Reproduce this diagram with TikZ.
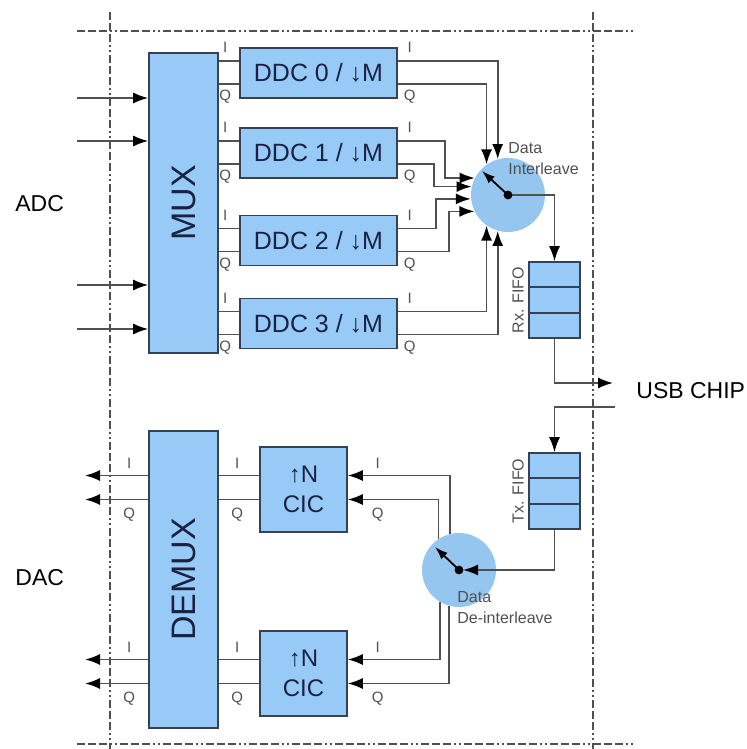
\documentclass[tikz,border=0pt]{standalone}
\usepackage{fontspec}
\setmainfont{Liberation Sans}
\usetikzlibrary{arrows.meta, positioning, calc}
\definecolor{birukotak}{RGB}{152,202,248}
\definecolor{biruputar}{RGB}{148,198,240}
\definecolor{tepibiru}{RGB}{55,65,85}
\definecolor{teksbiru}{RGB}{25,35,65}
\definecolor{garisabu}{RGB}{80,80,80}

\begin{document}
\begin{tikzpicture}[x=0.5pt, y=-0.5pt, font=\footnotesize,
        blok/.style={rectangle, draw=tepibiru, fill=birukotak, line width=0.8pt,
                     text=teksbiru, inner sep=0pt},
        ddc/.style={blok, minimum width=78.5pt, minimum height=25pt,
                    font=\fontsize{12.5}{15}\selectfont},
        cic/.style={blok, minimum width=43.5pt, minimum height=42.5pt, align=center,
                    font=\fontsize{12}{15}\selectfont},
        mux/.style={blok, minimum width=34.5pt},
        muxteks/.style={rotate=90, text=teksbiru, font=\fontsize{17}{20}\selectfont},
        fifo/.style={blok, minimum width=25.5pt, minimum height=38pt},
        putar/.style={circle, fill=biruputar, minimum size=37pt, inner sep=0pt},
        kabel/.style={draw=garisabu, line width=0.85pt},
        panah/.style={kabel, -{Latex[length=7.5pt, width=5.5pt, color=black]}},
        jarum/.style={draw=black, line width=0.9pt, -{Latex[length=6.5pt, width=4.5pt]}},
        iq/.style={font=\fontsize{7.5}{8}\selectfont, text=garisabu, inner sep=1pt},
        ket/.style={font=\fontsize{8}{10.5}\selectfont, text=garisabu, align=left, inner sep=0pt},
        sisi/.style={font=\fontsize{11.5}{14}\selectfont, inner sep=0pt},
        bingkai/.style={draw=garisabu, line width=0.6pt,
                        dash pattern=on 4pt off 1.5pt on 4pt off 1.5pt on 4pt off 1.5pt on 1pt off 1.5pt on 1pt off 1.5pt}
    ]
        \useasboundingbox (0,0) rectangle (746,749);

        % bingkai papan
        \draw[bingkai] (77,31) -- (635,31);
        \draw[bingkai] (77,744) -- (635,744);
        \draw[bingkai] (110,12) -- (110,749);
        \draw[bingkai] (593,12) -- (593,749);

        % blok-blok
        \node[mux, minimum height=150pt] (mux) at (183.5,203) {};
        \node[muxteks] (muxlbl) at (mux) {MUX};
        \node[ddc] (ddc0) at (318.5,73)    {DDC 0 / ↓M};
        \node[ddc] (ddc1) at (318.5,153)   {DDC 1 / ↓M};
        \node[ddc] (ddc2) at (318.5,240.5) {DDC 2 / ↓M};
        \node[ddc] (ddc3) at (318.5,323.5) {DDC 3 / ↓M};
        \node[putar] (ilv) at (508,195) {};
        \node[fifo] (rx) at (554.5,300) {};
        \node[fifo] (tx) at (554.5,491) {};
        \node[putar] (dil) at (459,570) {};
        \node[mux, minimum height=148.5pt] (demux) at (183.5,579.5) {};
        \node[muxteks] (demuxlbl) at (demux) {DEMUX};
        \node[cic] (cicA) at (303.5,489.5) {↑N\\CIC};
        \node[cic] (cicB) at (303.5,673.5) {↑N\\CIC};

        \foreach \f in {rx,tx} {
            \draw[draw=tepibiru, line width=0.8pt] ($(\f.north west)!1/3!(\f.south west)$) -- ($(\f.north east)!1/3!(\f.south east)$);
            \draw[draw=tepibiru, line width=0.8pt] ($(\f.north west)!2/3!(\f.south west)$) -- ($(\f.north east)!2/3!(\f.south east)$);
        }
        \node[ket, rotate=90, anchor=south] (rxlbl) at ([xshift=-2pt]rx.west) {Rx. FIFO};
        \node[ket, rotate=90, anchor=south] (txlbl) at ([xshift=-2pt]tx.west) {Tx. FIFO};

        % teks samping
        \node[sisi, anchor=west] (adc) at (15,204) {ADC};
        \node[sisi, anchor=west] (dac) at (15,578) {DAC};
        \node[sisi, anchor=west] (usb) at (636,391) {USB CHIP};
        \node[ket, anchor=west] (ilvlbl) at ($(ilv.center)+(0,-36.5)$) {Data\\Interleave};
        \node[ket, anchor=west] (dillbl) at ($(dil.center)+(-2,38)$) {Data\\De-interleave};

        % masukan ADC
        \coordinate (adc0) at (77,98);
        \coordinate (adc1) at (77,141);
        \coordinate (adc2) at (77,285);
        \coordinate (adc3) at (77,329);
        \foreach \a in {adc0,adc1,adc2,adc3}
            \draw[panah] (\a) -- (\a -| mux.west);

        % MUX ke DDC
        \foreach \d in {ddc0,ddc1,ddc2,ddc3} {
            \draw[kabel] ($(\d.west -| mux.east)+(0,-12)$) -- ($(\d.west)+(0,-12)$);
            \draw[kabel] ($(\d.west -| mux.east)+(0,11)$) -- ($(\d.west)+(0,11)$);
            \node[iq, above=3pt] (\d-li) at ($(\d.west)+(-14,-12)$) {I};
            \node[iq, below=2pt] (\d-lq) at ($(\d.west)+(-14,11)$) {Q};
            \node[iq, above=3pt] (\d-ri) at ($(\d.east)+(12,-12)$) {I};
            \node[iq, below=2pt] (\d-rq) at ($(\d.east)+(12,11)$) {Q};
        }

        % DDC ke interleave
        \draw[panah] ($(ddc0.east)+(0,-12)$) -| (ilv.106);
        \draw[panah] ($(ddc0.east)+(0,11)$) -| (ilv.125);
        \draw[panah] ($(ddc1.east)+(0,-12)$) -- ++(47,0) |- (ilv.153);
        \draw[panah] ($(ddc1.east)+(0,11)$) -- ++(36,0) |- (ilv.167);
        \draw[panah] ($(ddc2.east)+(0,-12)$) -- ++(38,0) |- (ilv.186);
        \draw[panah] ($(ddc2.east)+(0,11)$) -- ++(51,0) |- (ilv.206);
        \draw[panah] ($(ddc3.east)+(0,-12)$) -| (ilv.235);
        \draw[panah] ($(ddc3.east)+(0,11)$) -| (ilv.254);

        % FIFO dan USB
        \coordinate (usbmasuk) at (613,383);
        \coordinate (usbkeluar) at (615,407);
        \draw[panah] (ilv.center) -| (rx.north);
        \draw[panah] (rx.south) |- (usbmasuk);
        \draw[panah] (usbkeluar) -| (tx.north);
        \draw[panah, shorten >=2pt] (tx.south) |- (dil.center);

        % de-interleave ke CIC
        \draw[panah] (dil.104) |- ($(cicA.east)+(0,-14)$);
        \draw[panah] (dil.123) |- ($(cicA.east)+(0,10)$);
        \draw[panah] (dil.239) |- ($(cicB.east)+(0,-14)$);
        \draw[panah] (dil.254) |- ($(cicB.east)+(0,10)$);

        % CIC ke DEMUX ke DAC
        \coordinate (dacx) at (85,0);
        \foreach \c in {cicA,cicB} {
            \draw[kabel] ($(\c.west)+(0,-14)$) -- ($(\c.west -| demux.east)+(0,-14)$);
            \draw[kabel] ($(\c.west)+(0,10)$) -- ($(\c.west -| demux.east)+(0,10)$);
            \draw[panah] ($(\c.west -| demux.west)+(0,-14)$) -- ($(\c.west -| dacx)+(0,-14)$);
            \draw[panah] ($(\c.west -| demux.west)+(0,10)$) -- ($(\c.west -| dacx)+(0,10)$);
            \node[iq, above=2.5pt] (\c-li) at ($(\c.west)+(-22,-14)$) {I};
            \node[iq, below=3pt] (\c-lq) at ($(\c.west)+(-22,10)$) {Q};
            \node[iq, above=2.5pt] (\c-ri) at ($(\c.east)+(30,-14)$) {I};
            \node[iq, below=3pt] (\c-rq) at ($(\c.east)+(30,10)$) {Q};
            \node[iq, above=2.5pt] (\c-oi) at ($(\c.west -| demux.west)+(-19,-14)$) {I};
            \node[iq, below=3pt] (\c-oq) at ($(\c.west -| demux.west)+(-19,10)$) {Q};
        }

        % titik saklar
        \fill (ilv.center) circle (2.2pt);
        \draw[jarum] (ilv.center) -- ++(-26,-24);
        \fill (dil.center) circle (2.2pt);
        \draw[jarum] (dil.center) -- ++(-24,-23);
    \end{tikzpicture}
\end{document}
